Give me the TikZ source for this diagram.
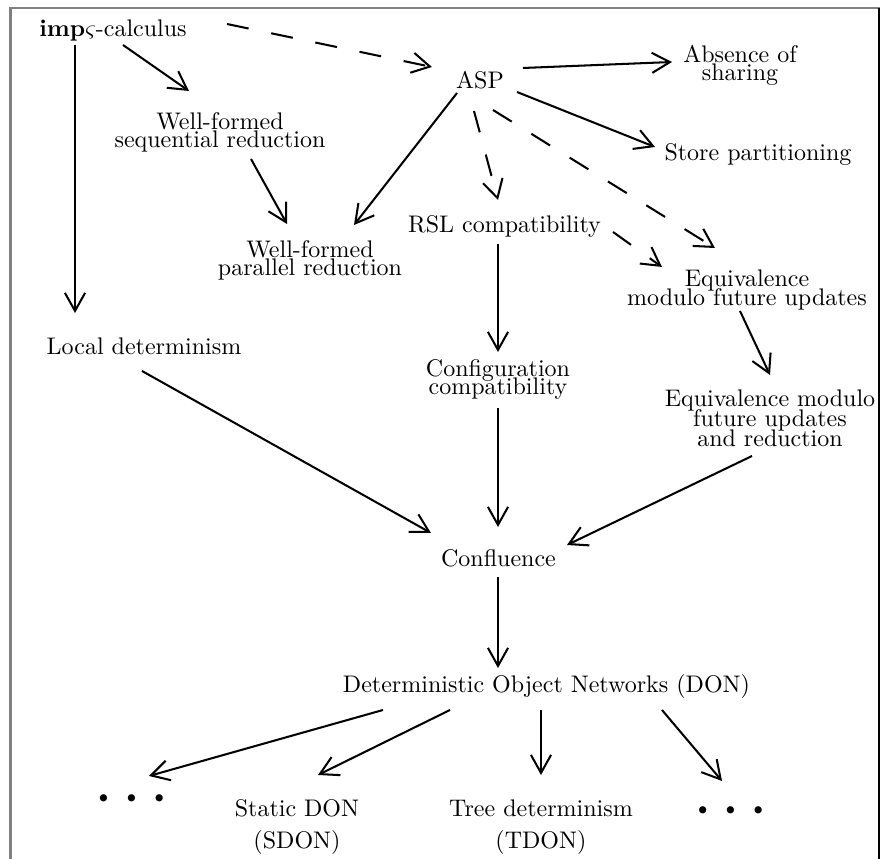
\documentclass[tikz,border=0pt]{standalone}
\usetikzlibrary{arrows.meta,calc}
\begin{document}
\begin{tikzpicture}[x=0.41667pt,y=-0.41667pt,
  lab/.style={inner sep=0pt,align=center,font={\fontsize{10}{7.5}\selectfont\lineskiplimit=-20pt}},
  labw/.style={lab,font={\fontsize{10}{8.3}\selectfont\lineskiplimit=-20pt}},
  arr/.style={line width=0.85pt,-{Straight Barb[length=7.5pt,width=8.4pt,line width=0.85pt]}},
  dsh/.style={arr,dash pattern=on 9.2pt off 9.6pt},
  framel/.style={draw=gray,line width=0.85pt}]
\useasboundingbox (0,0) rectangle (881,859);
% frame
\draw[framel] (10.5,859) -- (10.5,8) -- (880,8);
\draw[line width=0.45pt] (879,8) -- (879,859);
% nodes
\node[lab,anchor=base] (imp) at (113,37) {\textbf{imp}$\varsigma$-calculus};
\node[lab,anchor=base] (asp) at (480,89) {ASP};
\node[lab] (abs) at (740,65) {Absence of\\sharing};
\node[lab,anchor=base] (store) at (758,161) {Store partitioning};
\node[lab] (wfs) at (220,132.5) {Well-formed\\sequential reduction};
\node[lab] (wfp) at (310,260) {Well-formed\\parallel reduction};
\node[lab,anchor=base] (rsl) at (504.5,233) {RSL compatibility};
\node[labw] (equ) at (747,290) {Equivalence\\modulo future updates};
\node[lab] (conf) at (498,380) {Configuration\\compatibility};
\node[labw] (eqr) at (770,418.7) {Equivalence modulo\\future updates\\and reduction};
\node[lab,anchor=base] (loc) at (144,355) {Local determinism};
\node[lab,anchor=base] (confl) at (498.5,567) {Confluence};
\node[lab,anchor=base] (don) at (546.5,693) {Deterministic Object Networks (DON)};
\node[lab,anchor=base] (ldots) at (131.5,803) {$\scriptstyle\bullet$\hspace{7.5pt}$\scriptstyle\bullet$\hspace{7.5pt}$\scriptstyle\bullet$};
\node[lab] (sdon) at (297,827) {Static DON\\[5.8pt](SDON)};
\node[lab] (tdon) at (541,827) {Tree determinism\\[5.8pt](TDON)};
\node[lab,anchor=base] (rdots) at (730.5,815) {$\scriptstyle\bullet$\hspace{7.5pt}$\scriptstyle\bullet$\hspace{7.5pt}$\scriptstyle\bullet$};
% connectors
\draw[dsh] ($(imp.base)+(114,-13)$) -- ($(asp.base)+(-48,-22)$);
\draw[arr] ($(imp.base)+(10,8)$) -- ($(wfs.center)+(-31,-41.5)$);
\draw[arr] ($(imp.base)+(-38,8)$) -- ($(loc.base)+(-69,-42)$);
\draw[arr] ($(asp.base)+(43,-21)$) -- ($(abs.center)+(-68,-3)$);
\draw[arr] ($(asp.base)+(37,3)$) -- ($(store.base)+(-103,-14)$);
\draw[arr] ($(asp.base)+(-23,4)$) -- ($(wfp.center)+(44,-35)$);
\draw[dsh] ($(asp.base)+(-6,22)$) -- ($(rsl.base)+(-6.5,-33)$);
\draw[dsh] ($(asp.base)+(13,21)$) -- ($(equ.center)+(-32,-42)$);
\draw[dsh] ($(rsl.base)+(108.5,-1)$) -- ($(equ.center)+(-85,-23)$);
\draw[arr] ($(wfs.center)+(31,26.5)$) -- ($(wfp.center)+(-23,-36)$);
\draw[arr] ($(rsl.base)+(-6.5,11)$) -- ($(conf.center)+(0,-28)$);
\draw[arr] ($(equ.center)+(-7,21)$) -- ($(eqr.center)+(0,-43.7)$);
\draw[arr] ($(conf.center)+(0,28)$) -- ($(confl.base)+(-0.5,-40)$);
\draw[arr] ($(loc.base)+(-2,16)$) -- ($(confl.base)+(-67.5,-34)$);
\draw[arr] ($(eqr.center)+(-18,37.3)$) -- ($(confl.base)+(68.5,-22)$);
\draw[arr] ($(confl.base)+(-0.5,10)$) -- ($(don.base)+(-48.5,-25)$);
\draw[arr] ($(don.base)+(-163.5,17)$) -- ($(ldots.base)+(17.5,-27)$);
\draw[arr] ($(don.base)+(-96.5,17)$) -- ($(sdon.center)+(21,-52)$);
\draw[arr] ($(don.base)+(-5.5,17)$) -- ($(tdon.center)+(0,-52)$);
\draw[arr] ($(don.base)+(115.5,17)$) -- ($(rdots.base)+(-8.5,-34)$);
\end{tikzpicture}
\end{document}
